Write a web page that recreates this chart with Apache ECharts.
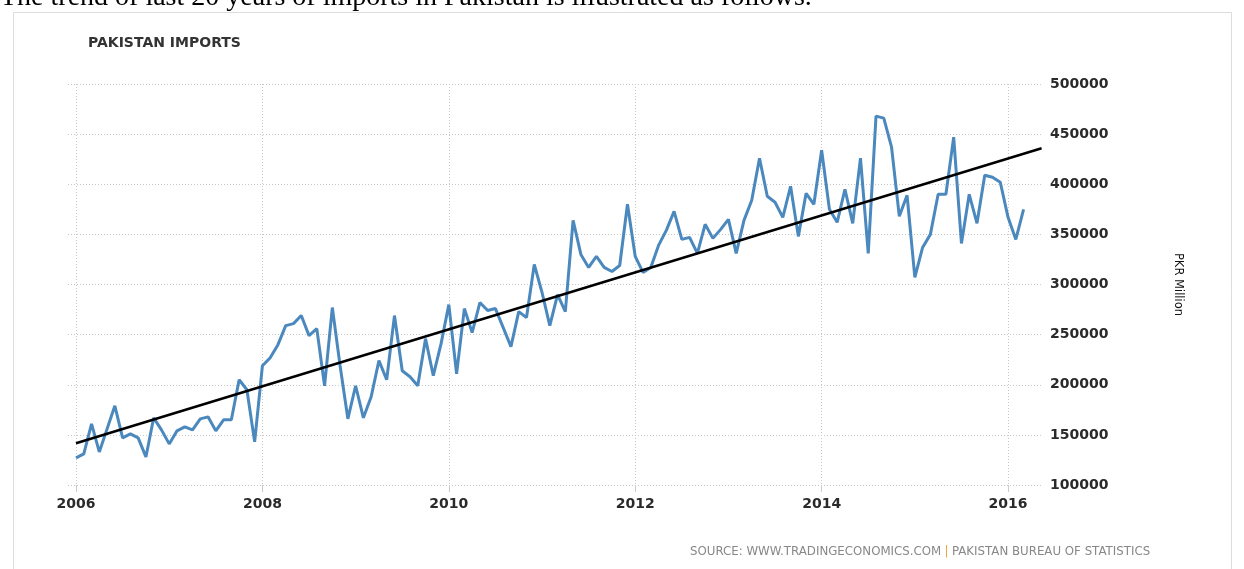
<!DOCTYPE html>
<html>
<head>
<meta charset="utf-8">
<script src="https://cdn.jsdelivr.net/npm/echarts@6/dist/echarts.min.js"></script>
<style>
  html, body { margin: 0; padding: 0; background: #fff; }
  #PakistanImports { width: 1244px; height: 569px; }
</style>
</head>
<body>
<div id="PakistanImports"></div>
<script>
// monthly imports, PKR million, Jan 2006 .. Mar 2016
var startYear = 2006;
var imports = [
  127000, 131000, 161000, 133000, 156000, 179000, 147000, 151000, 147000, 128000, 167000, 155000,
  141000, 154000, 158000, 155000, 166000, 168000, 154000, 165000, 165000, 205000, 195000, 143000,
  219000, 227000, 240000, 259000, 261000, 269000, 249000, 256000, 199000, 277000, 219000, 166000,
  199000, 167000, 188000, 224000, 205000, 269000, 214000, 208000, 199000, 246000, 209000, 241000,
  280000, 211000, 276000, 252000, 282000, 274000, 276000, 257000, 238000, 273000, 267000, 320000,
  292000, 259000, 290000, 273000, 364000, 330000, 317000, 328000, 317000, 313000, 319000, 380000,
  328000, 312000, 317000, 339000, 354000, 373000, 345000, 347000, 331000, 360000, 346000, 355000,
  365000, 331000, 364000, 384000, 426000, 388000, 382000, 367000, 398000, 348000, 391000, 380000,
  434000, 375000, 362000, 395000, 361000, 426000, 331000, 468000, 466000, 437000, 368000, 389000,
  307000, 337000, 350000, 390000, 390000, 447000, 341000, 390000, 361000, 409000, 407000, 402000,
  367000, 345000, 375000
];
// trend line end points
var trendLine = [[2006, 141600], [2016.36, 435900]];
var yearTicks = [2006, 2008, 2010, 2012, 2014, 2016];

var importsData = imports.map(function (v, i) {
  return [startYear + i / 12, v];
});

var chart = echarts.init(document.getElementById('PakistanImports'));
var gridColor = '#c8c8c8';
var labelFont = 'DejaVu Sans';

var option = {
  animation: false,
  backgroundColor: '#fff',
  textStyle: { fontFamily: labelFont },
  grid: { left: 68, right: 201, top: 84, bottom: 84 },
  xAxis: {
    type: 'value',
    min: 2005.914,
    max: 2016.375,
    axisLine: { show: false },
    axisTick: {
      show: true,
      length: 7,
      customValues: yearTicks,
      lineStyle: { color: '#cccccc', width: 1 }
    },
    axisLabel: {
      customValues: yearTicks,
      margin: 12,
      color: '#2a2a2a',
      fontSize: 14,
      fontWeight: 'bold',
      fontFamily: labelFont,
      formatter: function (v) { return String(Math.round(v)); }
    },
    splitLine: {
      show: true,
      lineStyle: { color: gridColor, type: [1, 2], width: 1 }
    }
  },
  yAxis: {
    type: 'value',
    position: 'right',
    min: 100000,
    max: 500000,
    interval: 50000,
    name: 'PKR Million',
    nameLocation: 'middle',
    nameRotate: -90,
    nameGap: 129,
    nameTextStyle: { color: '#111', fontSize: 11.5, fontFamily: labelFont },
    axisLine: { show: false },
    axisTick: { show: false },
    axisLabel: {
      margin: 7,
      color: '#2a2a2a',
      fontSize: 14,
      fontWeight: 'bold',
      fontFamily: labelFont,
      formatter: function (v) { return String(v); }
    },
    splitLine: {
      show: true,
      lineStyle: { color: gridColor, type: [1, 2], width: 1 }
    }
  },
  series: [
    {
      name: 'Imports',
      type: 'line',
      data: importsData,
      symbol: 'none',
      lineStyle: { color: '#4b88bd', width: 3 },
      z: 3
    },
    {
      name: 'Trend',
      type: 'line',
      data: trendLine,
      symbol: 'none',
      lineStyle: { color: '#000', width: 2.5 },
      z: 4
    }
  ],
  graphic: [
    {
      type: 'text',
      left: 0,
      top: -16,
      style: {
        text: 'The trend of last 20 years of imports in Pakistan is illustrated as follows.',
        font: '28px "Liberation Serif", serif',
        fill: '#000'
      }
    },
    {
      type: 'rect',
      shape: { x: 13.5, y: 12.5, width: 1218, height: 600 },
      style: { fill: 'none', stroke: '#dddddd', lineWidth: 1 },
      silent: true
    },
    {
      type: 'text',
      left: 88,
      top: 36,
      style: {
        text: 'PAKISTAN IMPORTS',
        font: 'bold 14px "DejaVu Sans"',
        fill: '#333'
      }
    },
    {
      type: 'text',
      left: 690,
      top: 546,
      style: {
        text: '{a|SOURCE: WWW.TRADINGECONOMICS.COM} {b||} {a|PAKISTAN BUREAU OF STATISTICS}',
        rich: {
          a: { fontSize: 11.8, fontFamily: labelFont, fill: '#888' },
          b: { fontSize: 11.8, fontFamily: labelFont, fill: '#f2a33a' }
        }
      }
    }
  ]
};

chart.setOption(option);
</script>
</body>
</html>
